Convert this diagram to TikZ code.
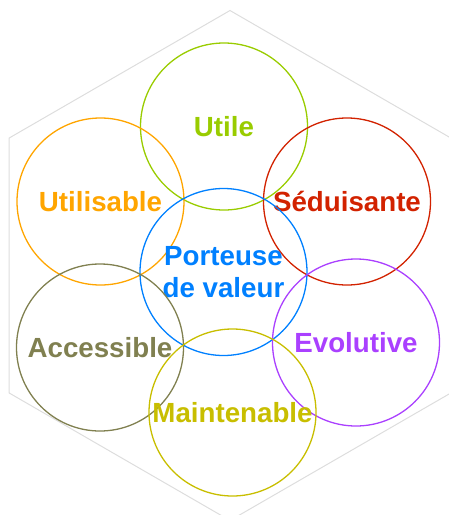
\documentclass[tikz,border=0pt]{standalone}
\usepackage{fontspec}
\setmainfont{Liberation Sans}
\definecolor{hexgrey}{RGB}{221,221,221}
\definecolor{utilecol}{RGB}{153,204,0}
\definecolor{utilisablecol}{RGB}{255,165,0}
\definecolor{seduisantecol}{RGB}{210,34,0}
\definecolor{porteusecol}{RGB}{0,128,255}
\definecolor{accessiblecol}{RGB}{128,128,80}
\definecolor{evolutivecol}{RGB}{170,64,255}
\definecolor{maintenablecol}{RGB}{200,190,0}

\begin{document}
\begin{tikzpicture}[x=1pt,y=-1pt,
  petal/.style={circle,draw,line width=1.3pt,minimum size=167pt,inner sep=0pt,
    align=center,font=\fontsize{27.7}{32}\selectfont\bfseries}]
\useasboundingbox (0,0) rectangle (449,515);
\clip (0,0) rectangle (449,515);
\draw[hexgrey,line width=1pt] (230,10.5) -- (450.8,138) -- (450.8,393) -- (230,520.5) -- (9.2,393) -- (9.2,138) -- cycle;
\node[petal,utilecol] (utile) at (224,126.5) {Utile};
\node[petal,utilisablecol] (utilisable) at (100.5,201.5) {Utilisable};
\node[petal,seduisantecol] (seduisante) at (347,201.5) {Séduisante};
\node[petal,porteusecol] (porteuse) at (223.5,272) {Porteuse\\de valeur};
\node[petal,accessiblecol] (accessible) at (100,347.5) {Accessible};
\node[petal,evolutivecol] (evolutive) at (356,342.5) {Evolutive};
\node[petal,maintenablecol] (maintenable) at (232.5,412.5) {Maintenable};
\end{tikzpicture}
\end{document}
